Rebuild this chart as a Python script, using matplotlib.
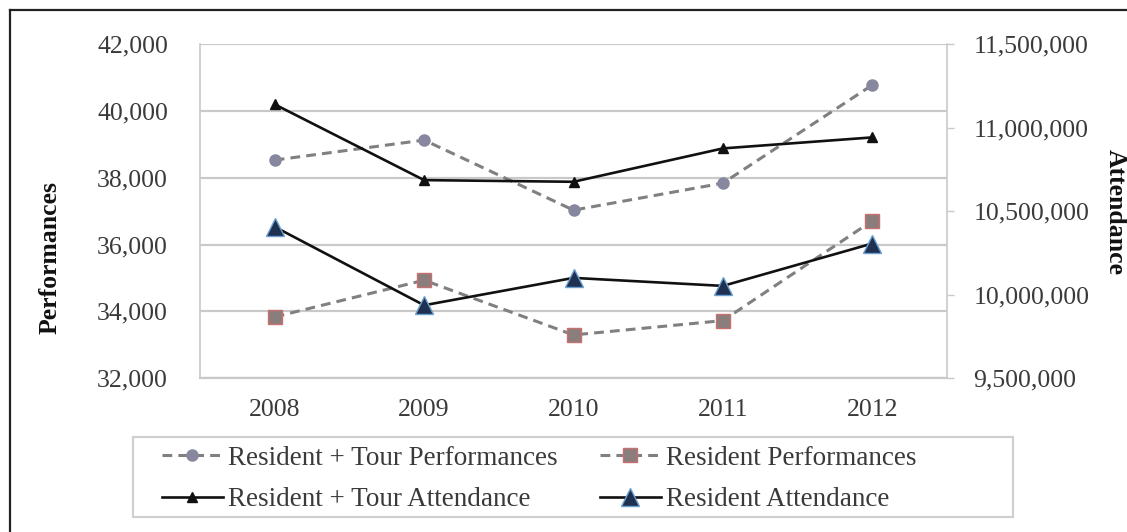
import matplotlib
matplotlib.use("Agg")
import matplotlib.pyplot as plt
from matplotlib.ticker import FuncFormatter
from matplotlib.patches import Rectangle
from matplotlib.lines import Line2D

years = ["2008", "2009", "2010", "2011", "2012"]

# Performances (left axis)
resident_tour_perf = [38530, 39130, 37030, 37840, 40780]
resident_perf = [33830, 34930, 33290, 33720, 36710]

# Attendance (right axis)
resident_tour_att = [11140000, 10686000, 10676000, 10876000, 10942000]
resident_att = [10406000, 9936000, 10100000, 10052000, 10306000]

perf_ticks = [32000, 34000, 36000, 38000, 40000, 42000]
att_ticks = [9500000, 10000000, 10500000, 11000000, 11500000]

plt.rcParams["font.family"] = ["Liberation Serif", "DejaVu Serif"]
FS = 18.5
LFS = 19.5
TXT = "#3a3a3a"
GRID = "#c9c9c9"

W, H = 1127, 532
fig = plt.figure(figsize=(W / 100, H / 100), dpi=100)
ax = fig.add_axes([200 / W, 1 - 378 / H, (947 - 200) / W, (378 - 44.3) / H])
ax2 = ax.twinx()

x = list(range(len(years)))
dash = (3.2, 2.0)

l1, = ax.plot(x, resident_tour_perf, color="#808080", lw=2.2, dashes=dash,
              marker="o", ms=8, mfc="#8787a0", mec="#8787a0", zorder=3,
              label="Resident + Tour Performances")
l2, = ax.plot(x, resident_perf, color="#808080", lw=2.2, dashes=dash,
              marker="s", ms=10, mfc="#8c7d7d", mec="#c87070", mew=1.0, zorder=3,
              label="Resident Performances")
l3, = ax2.plot(x, resident_tour_att, color="#111111", lw=1.9,
               marker="^", ms=7, mfc="#111111", mec="#111111", zorder=3,
               label="Resident + Tour Attendance")
l4, = ax2.plot(x, resident_att, color="#111111", lw=1.9,
               marker="^", ms=13, mfc="#1f3050", mec="#6a9fd0", mew=1.0, zorder=4,
               label="Resident Attendance")

ax.set_xlim(-0.5, len(years) - 0.5)
ax.set_ylim(perf_ticks[0], perf_ticks[-1])
ax2.set_ylim(att_ticks[0], att_ticks[-1])
ax.set_yticks(perf_ticks)
ax2.set_yticks(att_ticks)
ax.set_xticks(x)
ax.set_xticklabels(years)

fmt = FuncFormatter(lambda v, p: f"{int(v):,}")
ax.yaxis.set_major_formatter(fmt)
ax2.yaxis.set_major_formatter(fmt)

ax.grid(axis="y", color=GRID, lw=1.6)
ax.set_axisbelow(True)

for a in (ax, ax2):
    for s in a.spines.values():
        s.set_visible(False)
ax.spines["left"].set_visible(True)
ax.spines["left"].set_color(GRID)
ax.spines["left"].set_linewidth(1.2)
ax.spines["bottom"].set_visible(True)
ax.spines["bottom"].set_color(GRID)
ax.spines["bottom"].set_linewidth(1.6)
ax2.spines["right"].set_visible(True)
ax2.spines["right"].set_color(GRID)
ax2.spines["right"].set_linewidth(1.2)

ax.tick_params(axis="y", length=0, pad=23, labelsize=FS, labelcolor=TXT)
ax.tick_params(axis="x", length=0, pad=15, labelsize=FS, labelcolor=TXT)
ax2.tick_params(axis="y", length=5, width=1.0, color=GRID, pad=14,
                labelsize=FS, labelcolor=TXT)

fig.text(50 / W, 1 - 258 / H, "Performances", rotation=90, ha="center",
         va="center", fontsize=FS, fontweight="bold", color="#111111")
fig.text(1115 / W, 1 - 212 / H, "Attendance", rotation=-90, ha="center",
         va="center", fontsize=FS, fontweight="bold", color="#111111")

# Legend box and entries (row-wise order: performances first, then attendance)
fig.patches.append(Rectangle((133 / W, 1 - 517 / H), (1013 - 133) / W, 80 / H,
                             transform=fig.transFigure, fill=False,
                             edgecolor="#cfcfcf", lw=1.5))
leg = fig.legend(handles=[l1, l3, l2, l4], ncol=2, loc="center left",
                 bbox_to_anchor=(162 / W, 1 - 479 / H), frameon=False,
                 fontsize=LFS, handlelength=2.25, handletextpad=0.2,
                 columnspacing=1.55, labelspacing=0.62, borderpad=0,
                 borderaxespad=0)
for t in leg.get_texts():
    t.set_color(TXT)

# Outer frame lines on the left and top
fig.add_artist(Line2D([9.5 / W, 9.5 / W], [0, 1 - 9.5 / H], transform=fig.transFigure,
                      color="#222222", lw=1.6))
fig.add_artist(Line2D([9.5 / W, 1], [1 - 9.5 / H, 1 - 9.5 / H], transform=fig.transFigure,
                      color="#222222", lw=1.6))

fig.savefig("out.png", dpi=100)
